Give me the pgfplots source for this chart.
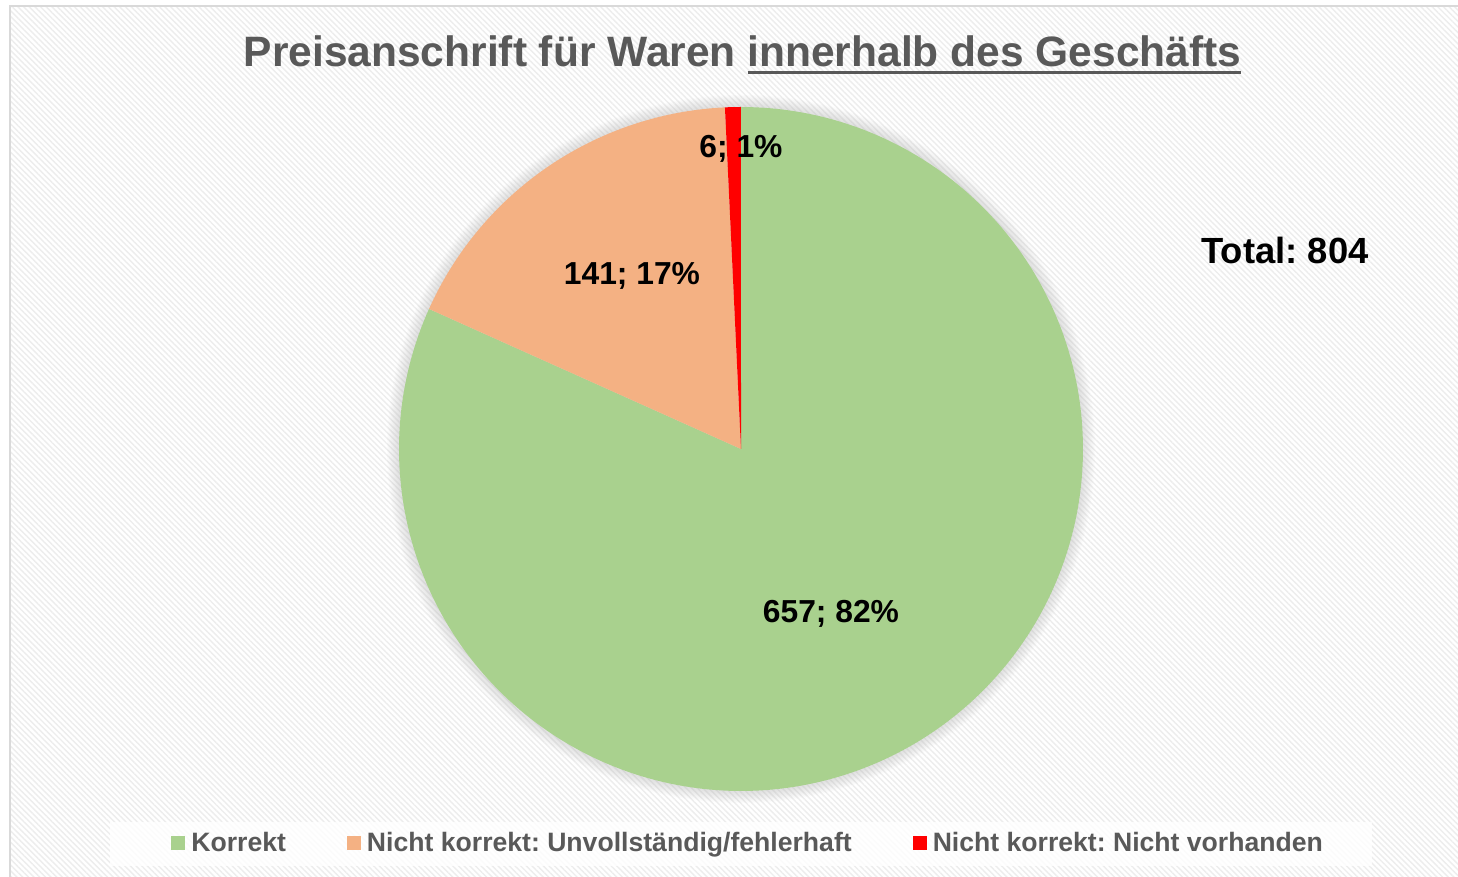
\documentclass[border=0pt]{standalone}
\usepackage{fontspec}
\setmainfont{Liberation Sans}
\usepackage{pgfplots}
\pgfplotsset{compat=1.18}
\usepackage{pgfplotstable}
\usetikzlibrary{patterns.meta}
\frenchspacing

\definecolor{cGreen}{HTML}{A9D18E}
\definecolor{cOrange}{HTML}{F4B183}
\definecolor{cRed}{HTML}{FF0000}
\definecolor{cText}{HTML}{595959}
\definecolor{cBorder}{HTML}{D9D9D9}

\pgfplotstableread{
cat value
Korrekt 657
Unvollstaendig 141
Fehlend 6
}\piedata
\pgfplotstablegetelem{0}{value}\of\piedata \let\vA\pgfplotsretval
\pgfplotstablegetelem{1}{value}\of\piedata \let\vB\pgfplotsretval
\pgfplotstablegetelem{2}{value}\of\piedata \let\vC\pgfplotsretval
\pgfmathsetmacro\tot{\vA+\vB+\vC}
\pgfmathsetmacro\aA{90-360/\tot*\vA}
\pgfmathsetmacro\aB{\aA-360/\tot*\vB}
\pgfmathsetmacro\aC{\aB-360/\tot*\vC}

\newlength\ulw
\newcommand\myul[1]{\settowidth\ulw{#1}\rlap{\rule[-3.3pt]{\ulw}{1.5pt}}#1}
\newcommand\lfont{\fontsize{15.9}{19}\selectfont\bfseries}

\begin{document}
\frenchspacing
\begin{tikzpicture}
\begin{axis}[
  hide axis, scale only axis,
  width=729pt, height=438.5pt,
  xmin=0, xmax=1458, ymin=0, ymax=877,
  legend columns=3,
  legend style={at={(axis description cs:0.11728,0.0388)}, anchor=west,
    draw=none, fill=none, inner sep=0pt,
    font=\fontsize{13.3}{16}\selectfont\bfseries\frenchspacing, text=cText,
    nodes={inner sep=0pt},
    /tikz/every even column/.append style={column sep=30.5pt}},
  legend image code/.code={\fill[#1] (0pt,-3.5pt) rectangle (7pt,3.5pt); \path (10pt,0pt);},
]
% background
\fill[white] (0,0) rectangle (1458,877);
\fill[pattern={Lines[angle=-45,distance=2pt,line width=0.7pt]}, pattern color=black!7] (10,-10) rectangle (1470,871);
\draw[cBorder, line width=1pt] (10,-10) rectangle (1470,871);
% legend background
\fill[white, opacity=0.8] (110,11) rectangle (1372,55);
% shadow
\pgfplotsinvokeforeach{10,9,8,7,6,5,4,3,2,1}{
  \fill[black!60, opacity=0.016] (741,428) circle[radius={171pt+#1*0.6pt}];
}
% slices
\addplot[fill=cGreen, draw=none, domain=\aA:90, samples=240, variable=\t]
  ({741+342*cos(\t)},{428+342*sin(\t)}) -- (741,428) -- cycle;
\addlegendentry{Korrekt}
\addplot[fill=cOrange, draw=none, domain=\aB:\aA, samples=80, variable=\t]
  ({741+342*cos(\t)},{428+342*sin(\t)}) -- (741,428) -- cycle;
\addlegendentry{Nicht korrekt: Unvollständig/fehlerhaft}
\addplot[fill=cRed, draw=none, domain=\aC:\aB, samples=10, variable=\t]
  ({741+342*cos(\t)},{428+342*sin(\t)}) -- (741,428) -- cycle;
\addlegendentry{Nicht korrekt: Nicht vorhanden}
% labels
\node[anchor=base, font=\lfont] at (741,719.5) {6; 1\%};
\node[anchor=base, font=\lfont] at (632,592.5) {141; 17\%};
\node[anchor=base, font=\lfont] at (831,254) {657; 82\%};
\node[anchor=base, font=\fontsize{18.2}{22}\selectfont\bfseries\frenchspacing] at (1285,613) {Total: 804};
\node[anchor=base, text=cText, font=\fontsize{21.25}{25}\selectfont\bfseries] at (742.5,810)
  {Preisanschrift für Waren \myul{innerhalb des Geschäfts}};
\end{axis}
\pgfresetboundingbox
\path[use as bounding box] (current axis.south west) rectangle (current axis.north east);
\end{tikzpicture}
\end{document}
